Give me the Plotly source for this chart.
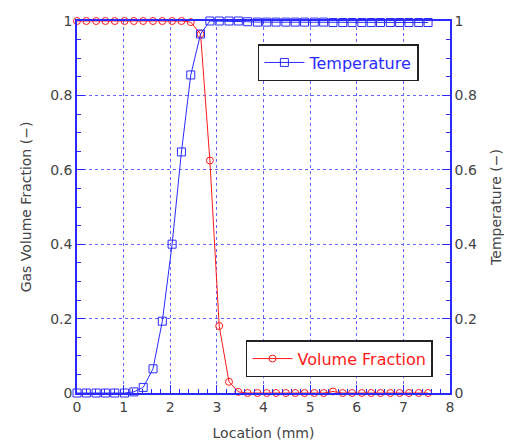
import plotly.graph_objects as go

location = [0, 0.20, 0.41, 0.61, 0.81, 1.02, 1.22, 1.42, 1.63, 1.83, 2.04, 2.24, 2.44,
            2.65, 2.85, 3.05, 3.26, 3.46, 3.66, 3.87, 4.07, 4.27, 4.48, 4.68, 4.88,
            5.09, 5.29, 5.49, 5.70, 5.90, 6.11, 6.31, 6.51, 6.72, 6.92, 7.12, 7.33, 7.53]

temperature = [0, 0, 0, 0, 0, 0, 0.003, 0.015, 0.065, 0.193, 0.40, 0.648, 0.855,
               0.965, 1.0, 1.0, 1.0, 1.0, 0.998, 0.997, 0.997, 0.997, 0.997, 0.997, 0.997,
               0.997, 0.997, 0.996, 0.996, 0.996, 0.996, 0.996, 0.996, 0.996, 0.996, 0.996, 0.996, 0.996]

volume_fraction = [1.0, 1.0, 1.0, 1.0, 1.0, 1.0, 1.0, 1.0, 1.0, 1.0, 1.0, 1.0, 0.997,
                   0.965, 0.625, 0.18, 0.03, 0.003, 0, 0, 0, 0, 0, 0, 0,
                   0, 0, 0.004, 0, 0, 0, 0, 0, 0, 0, 0, 0, 0]

x_ticks = [0, 1, 2, 3, 4, 5, 6, 7, 8]
y_ticks = [0, 0.2, 0.4, 0.6, 0.8, 1]
y_tick_labels = ["0", "0.2", "0.4", "0.6", "0.8", "1"]

BLUE = "#2a2aff"
GRID = "#6666ff"
RED = "#ff1a1a"
FONT = "DejaVu Sans"

fig = go.Figure()
fig.add_trace(go.Scatter(
    x=location, y=temperature, name="Temperature", yaxis="y2",
    mode="lines+markers", cliponaxis=False, showlegend=True,
    line=dict(color=BLUE, width=1),
    marker=dict(symbol="square-open", size=8, color=BLUE, line=dict(width=1)),
    legend="legend",
))
fig.add_trace(go.Scatter(
    x=location, y=volume_fraction, name="Volume Fraction", yaxis="y",
    mode="lines+markers", cliponaxis=False, showlegend=True,
    line=dict(color=RED, width=1),
    marker=dict(symbol="circle-open", size=7, color=RED, line=dict(width=1)),
    legend="legend2",
))

axis_common = dict(
    showline=True, linecolor=BLUE, linewidth=1.5, automargin=False,
    ticks="inside", ticklen=8, tickcolor=BLUE, tickwidth=1,
    showgrid=True, gridcolor=GRID, griddash="dot", gridwidth=1,
    zeroline=False,
    tickfont=dict(family=FONT, size=14, color="#444444"),
)

fig.update_layout(
    width=504, height=436,
    margin=dict(l=69, r=62, t=13, b=51),
    paper_bgcolor="white", plot_bgcolor="white",
    showlegend=True,
    font=dict(family=FONT, color="#444444"),
    xaxis=dict(
        range=[0, 8], tickvals=x_ticks, mirror=True,
        minor=dict(dtick=0.2, ticks="inside", ticklen=4, tickcolor=BLUE, showgrid=False),
        title=dict(text="Location (mm)", font=dict(family=FONT, size=14, color="#444444")),
        **axis_common,
    ),
    yaxis=dict(
        range=[0, 1], tickvals=y_ticks, ticktext=y_tick_labels,
        minor=dict(dtick=0.05, ticks="inside", ticklen=4, tickcolor=BLUE, showgrid=False),
        title=dict(text="Gas Volume Fraction (−)", font=dict(family=FONT, size=14, color="#444444")),
        **axis_common,
    ),
    yaxis2=dict(
        range=[0, 1], tickvals=y_ticks, ticktext=y_tick_labels,
        overlaying="y", side="right",
        minor=dict(dtick=0.05, ticks="inside", ticklen=4, tickcolor=BLUE, showgrid=False),
        title=dict(text="Temperature (−)", font=dict(family=FONT, size=14, color="#444444")),
        **{**axis_common, "showgrid": False},
    ),
    legend=dict(
        x=0.485, y=0.938, xanchor="left", yanchor="top",
        bordercolor="#222222", borderwidth=1.5, bgcolor="white",
        font=dict(family=FONT, size=16, color=BLUE),
        itemwidth=40,
    ),
    legend2=dict(
        x=0.453, y=0.142, xanchor="left", yanchor="top",
        bordercolor="#222222", borderwidth=1.5, bgcolor="white",
        font=dict(family=FONT, size=16, color=RED),
        itemwidth=40,
    ),
)

fig.write_html("out.html")
